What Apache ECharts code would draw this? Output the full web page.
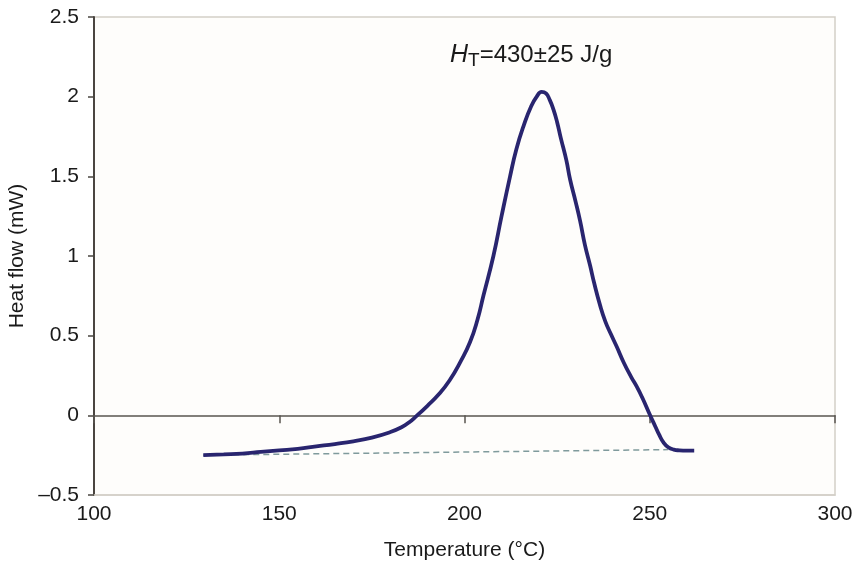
<!DOCTYPE html>
<html>
<head>
<meta charset="utf-8">
<script src="https://cdn.jsdelivr.net/npm/echarts@6/dist/echarts.min.js"></script>
<style>
html,body{margin:0;padding:0;background:#fff;}
#chart{width:859px;height:570px;}
</style>
</head>
<body>
<div id="chart"></div>
<script>
// Temperature (°C) and heat flow (mW)
var temperature = [129.5,135,140,145,150,155,160,165,170,175,180,183,185,187,190,193,196,199,201.5,203.5,205.1,207.8,210,212.3,214,216,218,219.5,220.8,222,223,224,225,226,227.5,228.5,230,231.2,232.5,233.9,235,236.6,238,239.5,241.1,243,245,246.5,248,250.1,251.5,252.5,253.7,255,256.5,258,260,262];
var heatFlow    = [-0.25,-0.245,-0.24,-0.23,-0.22,-0.21,-0.195,-0.18,-0.163,-0.14,-0.105,-0.075,-0.045,-0.005,0.06,0.13,0.22,0.34,0.46,0.6,0.75,1.0,1.25,1.5,1.67,1.82,1.94,2.0,2.03,2.02,1.98,1.92,1.84,1.74,1.6,1.48,1.34,1.22,1.07,0.94,0.83,0.69,0.59,0.51,0.43,0.33,0.24,0.18,0.11,0.0,-0.07,-0.12,-0.17,-0.2,-0.215,-0.22,-0.222,-0.222];
var baselineT = [129.5, 255];
var baselineV = [-0.25, -0.215];
var xTicks = [100,150,200,250,300];
var yTicks = [-0.5,0,0.5,1,1.5,2,2.5];

var curve = temperature.map(function(t,i){return [t,heatFlow[i]];});
var base = baselineT.map(function(t,i){return [t,baselineV[i]];});
var FONT = "'Liberation Sans', Arial, Helvetica, sans-serif";

var chart = echarts.init(document.getElementById('chart'));
chart.setOption({
  backgroundColor:'#ffffff',
  animation:false,
  grid:{left:94,right:24,top:17,bottom:75,outerBoundsMode:'none',containLabel:false,show:true,backgroundColor:'#fefdfb',borderColor:'#d3cfc7',borderWidth:1.5},
  xAxis:[{
    type:'value',min:xTicks[0],max:xTicks[xTicks.length-1],interval:50,position:'bottom',
    axisLine:{onZero:false,lineStyle:{color:'#d3cfc7',width:1.5}},
    axisTick:{show:false},splitLine:{show:false},
    axisLabel:{margin:9,fontSize:21,color:'#1a1a1a',fontFamily:FONT},
    name:'Temperature (°C)',nameLocation:'middle',nameGap:45,
    nameTextStyle:{fontSize:21,color:'#1a1a1a',fontFamily:FONT}
  },{
    type:'value',min:xTicks[0],max:xTicks[xTicks.length-1],interval:50,position:'bottom',
    axisLine:{show:true,onZero:true,onZeroAxisIndex:0,lineStyle:{color:'#5a5550',width:1.5}},
    axisTick:{show:true,length:8,lineStyle:{color:'#5a5550',width:1.5}},
    axisLabel:{show:false},splitLine:{show:false}
  }],
  yAxis:{
    type:'value',min:yTicks[0],max:yTicks[yTicks.length-1],interval:0.5,
    axisLine:{show:true,onZero:false,lineStyle:{color:'#4a4540',width:2}},
    axisTick:{show:true,length:6,lineStyle:{color:'#4a4540',width:1.5}},
    splitLine:{show:false},
    axisLabel:{margin:15,fontSize:21,color:'#1a1a1a',fontFamily:FONT,
      formatter:function(v){return String(v).replace('-','\u2013');}},
    name:'Heat flow (mW)',nameLocation:'middle',nameGap:63,nameRotate:90,
    nameTextStyle:{fontSize:21,color:'#1a1a1a',fontFamily:FONT}
  },
  series:[{
    type:'line',data:base,xAxisIndex:0,symbol:'none',
    lineStyle:{color:'#7f9a9c',width:1.5,type:[6,4]},z:2
  },{
    type:'line',data:curve,xAxisIndex:0,symbol:'none',smooth:0.5,
    lineStyle:{color:'#29256f',width:3.8},z:3
  }],
  graphic:[{
    type:'text',left:450,top:43,
    style:{
      text:'{h|H}{s|T}{n|=430±25 J/g}',
      rich:{
        h:{fontSize:25,fontStyle:'italic',fontFamily:FONT,fill:'#1a1a1a'},
        s:{fontSize:19,fontFamily:FONT,fill:'#1a1a1a',padding:[10,0,0,0]},
        n:{fontSize:24,fontFamily:FONT,fill:'#1a1a1a'}
      }
    }
  }]
});
</script>
</body>
</html>
